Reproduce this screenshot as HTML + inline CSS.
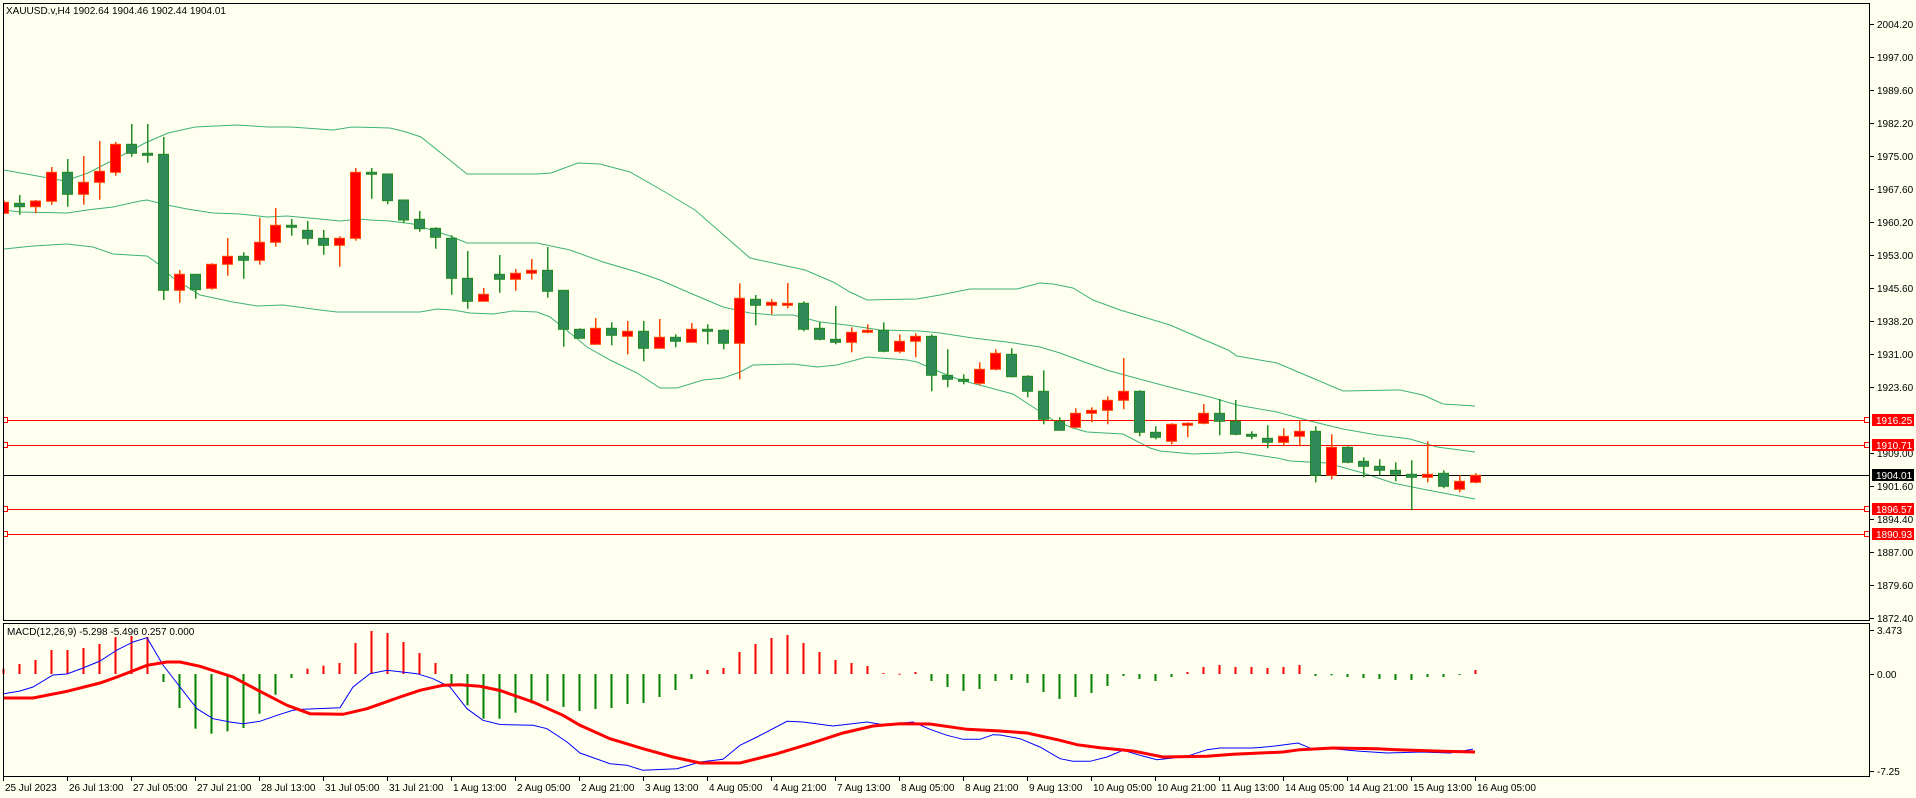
<!DOCTYPE html>
<html><head><meta charset="utf-8"><style>
html,body{margin:0;padding:0;background:#fffff0;}
svg{display:block;}
text{font-family:"Liberation Sans",sans-serif;font-size:10px;}
</style></head><body>
<svg id="s" width="1916" height="798" xmlns="http://www.w3.org/2000/svg">
<rect x="0" y="0" width="1916" height="798" fill="#fffff0"/>
<g id="bands" fill="none" stroke="#3cb371" stroke-width="1"></g>
<g id="hlines"></g>
<g id="candles"></g>
<g id="macd"></g>
<rect x="3.5" y="3.5" width="1866" height="617" fill="none" stroke="#000"/>
<rect x="3.5" y="623.5" width="1866" height="153" fill="none" stroke="#000"/>
<text x="6" y="14" fill="#000">XAUUSD.v,H4  1902.64 1904.46 1902.44 1904.01</text>
<text x="7" y="635" fill="#000">MACD(12,26,9) -5.298 -5.496 0.257 0.000</text>
<g id="axis" fill="#000"></g>
<g>
<text x="1877" y="28">2004.20</text>
<text x="1877" y="61">1997.00</text>
<text x="1877" y="94">1989.60</text>
<text x="1877" y="127">1982.20</text>
<text x="1877" y="160">1975.00</text>
<text x="1877" y="193">1967.60</text>
<text x="1877" y="226">1960.20</text>
<text x="1877" y="259">1953.00</text>
<text x="1877" y="292">1945.60</text>
<text x="1877" y="325">1938.20</text>
<text x="1877" y="358">1931.00</text>
<text x="1877" y="391">1923.60</text>
<text x="1877" y="457">1909.00</text>
<text x="1877" y="490">1901.60</text>
<text x="1877" y="523">1894.40</text>
<text x="1877" y="556">1887.00</text>
<text x="1877" y="589">1879.60</text>
<text x="1877" y="622">1872.40</text>
<text x="1877" y="634">3.473</text>
<text x="1877" y="678">0.00</text>
<text x="1877" y="775">-7.25</text>
</g>
<g>
<rect x="1872" y="414" width="42" height="12" fill="#ff0000"/><text x="1876" y="424" fill="#fff">1916.25</text>
<rect x="1872" y="439" width="42" height="12" fill="#ff0000"/><text x="1876" y="449" fill="#fff">1910.71</text>
<rect x="1872" y="469" width="42" height="12" fill="#000"/><text x="1876" y="479" fill="#fff">1904.01</text>
<rect x="1872" y="503" width="42" height="12" fill="#ff0000"/><text x="1876" y="513" fill="#fff">1896.57</text>
<rect x="1872" y="528" width="42" height="12" fill="#ff0000"/><text x="1876" y="538" fill="#fff">1890.93</text>
</g>
<g fill="#000">
<text x="5" y="791">25 Jul 2023</text>
<text x="69" y="791">26 Jul 13:00</text>
<text x="133" y="791">27 Jul 05:00</text>
<text x="197" y="791">27 Jul 21:00</text>
<text x="261" y="791">28 Jul 13:00</text>
<text x="325" y="791">31 Jul 05:00</text>
<text x="389" y="791">31 Jul 21:00</text>
<text x="453" y="791">1 Aug 13:00</text>
<text x="517" y="791">2 Aug 05:00</text>
<text x="581" y="791">2 Aug 21:00</text>
<text x="645" y="791">3 Aug 13:00</text>
<text x="709" y="791">4 Aug 05:00</text>
<text x="773" y="791">4 Aug 21:00</text>
<text x="837" y="791">7 Aug 13:00</text>
<text x="901" y="791">8 Aug 05:00</text>
<text x="965" y="791">8 Aug 21:00</text>
<text x="1029" y="791">9 Aug 13:00</text>
<text x="1093" y="791">10 Aug 05:00</text>
<text x="1157" y="791">10 Aug 21:00</text>
<text x="1221" y="791">11 Aug 13:00</text>
<text x="1285" y="791">14 Aug 05:00</text>
<text x="1349" y="791">14 Aug 21:00</text>
<text x="1413" y="791">15 Aug 13:00</text>
<text x="1477" y="791">16 Aug 05:00</text>
</g>
</svg>
<script>
var NS="http://www.w3.org/2000/svg";
function el(p,t,a){var e=document.createElementNS(NS,t);for(var k in a)e.setAttribute(k,a[k]);p.appendChild(e);return e;}
function pl(g,pts,st,w){el(g,"polyline",{points:pts.map(function(p){return p.join(",")}).join(" "),fill:"none",stroke:st,"stroke-width":w});}
var B=document.getElementById("bands");
var up=[[4,170],[65,181],[88,173],[119,157],[145,143],[168,133],[195,127],[237,125],[268,127],[291,127],[333,130],[352,127],[390,128],[406,132],[421,137],[467,174],[536,174],[551,173],[578,163],[600,164],[630,172],[665,192],[695,210],[750,258],[805,270],[833,282],[850,292],[867,300],[917,299],[940,295],[970,289],[1017,289],[1040,283],[1053,284],[1073,288],[1093,300],[1120,310],[1170,325],[1200,338],[1228,350],[1237,356],[1277,363],[1310,377],[1343,391],[1400,390],[1423,395],[1443,404],[1475,406]];
var mid=[[4,210],[20,212],[67,213],[87,210],[113,207],[140,201],[147,200],[167,205],[187,209],[213,213],[240,214],[267,217],[287,216],[320,219],[340,221],[360,219],[370,220],[390,221],[413,224],[450,236],[467,243],[537,243],[570,250],[603,262],[637,272],[660,280],[690,293],[723,307],[750,313],[773,315],[793,315],[820,322],[847,325],[880,330],[920,331],[940,333],[973,338],[1007,342],[1040,347],[1060,353],[1087,363],[1110,371],[1143,380],[1177,389],[1210,397],[1237,405],[1277,412],[1310,421],[1343,429],[1377,435],[1410,439],[1437,447],[1475,452]];
var lo=[[4,249],[33,246],[67,244],[93,247],[113,254],[147,256],[157,263],[173,278],[200,295],[233,302],[257,306],[283,305],[320,310],[337,312],[370,312],[420,312],[437,309],[453,310],[470,313],[493,314],[513,311],[537,312],[550,317],[570,333],[587,347],[610,360],[637,373],[660,388],[677,388],[703,380],[723,378],[740,372],[753,365],[793,364],[817,367],[837,365],[867,357],[907,360],[917,362],[940,372],[960,380],[987,387],[1013,394],[1033,407],[1053,420],[1073,428],[1087,432],[1123,434],[1150,448],[1160,451],[1193,454],[1223,453],[1237,452],[1277,458],[1290,461],[1327,463],[1363,473],[1393,483],[1427,490],[1475,499]];
pl(B,up,"#3cb371",1);pl(B,mid,"#3cb371",1);pl(B,lo,"#3cb371",1);
var H=document.getElementById("hlines");
[[420,"#ff0000"],[445,"#ff0000"],[509,"#ff0000"],[534,"#ff0000"]].forEach(function(h){
el(H,"line",{x1:4,x2:1869,y1:h[0]+0.5,y2:h[0]+0.5,stroke:h[1],"stroke-width":1});
el(H,"rect",{x:1864.5,y:h[0]-2.5,width:5,height:5,fill:"#fffff0",stroke:"#ff0000"});
el(H,"rect",{x:3.5,y:h[0]-2.5,width:4,height:5,fill:"#fffff0",stroke:"#ff0000"});});
el(H,"line",{x1:4,x2:1869,y1:475.5,y2:475.5,stroke:"#000","stroke-width":1});
var C=[
["r",200,202.3,213.3,214],["g",195,203.3,206.7,214.7],["r",200,201,206.7,213.3],["r",167,172.3,201.3,204.7],["g",159,172.3,194.3,206.7],["r",156,182.3,194.3,204.7],["r",141,171.3,182.3,199.7],["r",142,144.3,172.3,175.7],["g",124,144.3,153.3,156.7],["g",124,153.3,154.3,162.7],
["g",137,154.3,290.3,300],["r",270,274.3,290.3,302.7],["g",274.3,274.3,289.7,298.7],["r",263.3,264.3,288.3,289.7],["r",238,256.3,264.3,275.7],["g",252.3,256.3,260.3,278.7],["r",217.7,242.3,260.3,264.7],["r",208,225.3,242.3,246.7],["g",219,225.3,227.3,235.7],["g",221,230.3,238.3,244.7],
["g",230,238.3,245.3,254.7],["r",236.3,238.3,245.3,266.7],["r",168,172.3,238.3,240.7],["g",168,172.3,174.3,198.7],["g",174,174,200.7,204.3],["g",200,200,220,223],["g",211,219.3,228.7,231.7],["g",227.3,228.3,237.3,248.7],["g",235.3,238.3,278.3,294.7],["g",251,278.3,301.3,308.7],
["r",288,294.3,301.3,301.3],["g",255,274.3,279.3,292.7],["r",269,273.3,279.3,290.7],["r",259,270.3,273.3,279.7],["g",247,270.3,291.3,297.7],["g",290.3,290.3,329.3,346.7],["g",328.3,329.3,338.3,338.3],["r",318,328.3,344.3,344.3],["g",322.3,328.3,335.3,345.3],["r",321,331.3,336.3,354.3],
["g",321,331.3,348.3,361.3],["r",319,337.3,348.3,348.3],["g",334.3,337.3,341.3,347.3],["r",323,329.3,342.3,342.3],["g",324.3,329.3,330.3,344.3],["g",329.3,330.3,343.3,349.3],["r",283.3,298.3,343.3,379.3],["g",295,299.3,305.3,325.3],["r",299.3,302.3,305.3,314.3],["r",283,303.3,304.3,308.3],
["g",301.3,303.3,329.3,331.3],["g",322.3,328.3,339.3,340.3],["g",306,339.3,342.3,344.3],["r",327.3,332.3,342.3,352.3],["r",324.3,330.3,332.3,333.3],["g",322.3,330.3,351.3,352.3],["r",334.3,341.3,351.3,353.3],["r",333.3,336.3,341.3,357.3],["g",334.3,336.3,375.3,391.3],["g",349.3,375.3,379.3,387.3],
["g",374.3,379.3,381.3,384.3],["r",362.3,369.3,383.3,385.3],["r",349.3,353.3,369.3,370.3],["g",348.3,354.3,376.7,377.3],["g",375.3,376.3,391.3,397.3],["g",370.3,391.3,419.3,424.3],["g",417.3,421.3,430.3,430.3],["r",408.3,413.3,427.3,428.3],["r",407.3,410.3,413.3,422.3],["r",396.3,400.3,410.3,424.3],
["r",358,391.3,400.3,409.3],["g",390.3,391.3,432.3,436.3],["g",426.3,432.3,437.3,439.3],["r",423.3,424.3,441.3,444.3],["r",422.3,423.3,424.3,437.3],["r",404,413.3,423.3,424.3],["g",399,413.3,421.3,435.3],["g",400,421.3,434.3,435.3],["g",431.3,434.3,434.7,439.3],["g",425.3,438.3,442.3,448.3],
["r",428.3,436.3,442.3,446.3],["r",420.3,431.3,436.3,446.3],["g",426.3,431.3,475.3,482.3],["r",434.3,447.3,475.3,479.3],["g",446.3,447.3,462.3,463.3],["g",457.3,461.3,466.3,477.3],["g",459.3,466.3,470.3,475.3],["g",462.3,470.3,474.3,481.3],["g",460.3,474.3,477.3,510.3],["r",441.3,474.3,477.3,482.3],
["g",470.3,473.3,486.3,488.3],["r",475.3,481.3,489.3,492.3],["r",473.3,475.3,482.3,483.3]];
var G=document.getElementById("candles");
C.forEach(function(c,i){var x=Math.round(3.3+16*i);var r=c[0]=="r";
var wc=r?"#ff4500":"#228b22";
el(G,"rect",{x:x,y:c[1],width:1.5,height:Math.max(1,c[4]-c[1]),fill:wc});
var h=Math.max(2,c[3]-c[2]);
el(G,"rect",{x:x-4.5,y:c[2],width:10,height:h,fill:r?"#ff0000":"#2e8b57",stroke:wc,"stroke-width":1});});
el(G,"rect",{x:0,y:3,width:3,height:618,fill:"#fffff0"});
var M=document.getElementById("macd");
var hv=[668.7,664,660,650,650,648,644,637,636,637,682,708,728.7,733.7,731.3,728,713.7,694.7,678,668.7,665.7,663,643,631,633,642,653,663,685.3,705.3,718.7,718.7,712.7,703.3,701,707,711,709,708,704,703,697,690,679,670,668,652,644,638,635,643,652,660,663,666,673,673.7,672,681,687,691,689,681,680,683,692,699,697,693,686,676,679,681,677,672,667,665,667,667,668,667,665,676,675.3,677,678,679,680,680,677,677,675,670];
var redI={};[0,1,2,3,4,5,6,7,8,9,19,20,21,22,23,24,25,26,27,44,45,46,47,48,49,50,51,52,53,54,55,56,57,74,75,76,77,78,79,80,81,92].forEach(function(k){redI[k]=1;});
hv.forEach(function(v,i){var x=Math.round(3.3+16*i)-0.5;var y1=Math.min(v,674),y2=Math.max(v,674);
el(M,"rect",{x:x,y:y1,width:2,height:Math.max(1,y2-y1),fill:redI[i]?"#ff0000":"#008000"});});
var blue=[[4,693.7],[20,691],[33,687],[53,675],[67,674],[83,668],[100,661],[117,650],[133,642],[147,637.7],[163,665],[180,687],[197,708.7],[213,718.7],[230,722],[243,723.7],[260,721.3],[277,715.3],[293,710.3],[303,709.3],[340,707.7],[353,687],[370,673.7],[387,670.3],[417,673.7],[433,678.7],[450,687],[467,708.7],[483,720.3],[500,724.5],[533,725.3],[547,728.7],[567,742],[580,753],[610,763.7],[627,765.3],[643,770.3],[677,768.7],[700,762],[723,759.3],[740,745.3],[757,737],[787,721.3],[803,722],[833,726],[867,722],[883,724.7],[913,722],[930,729.3],[947,735.3],[963,739.3],[980,739.3],[993,734.7],[1000,735],[1020,738.7],[1040,747],[1060,758.7],[1073,761.3],[1090,761.3],[1107,757],[1123,750.3],[1140,755.3],[1157,759.7],[1173,758],[1190,755.3],[1207,749.7],[1220,748],[1253,748],[1273,746.3],[1298,743],[1313,749.3],[1333,748.7],[1357,751],[1387,753],[1420,752],[1450,753],[1473,749.3]];
var red=[[4,698],[33,698],[67,691.3],[100,683],[117,677],[147,665.3],[167,662],[180,662],[200,666.3],[233,677],[260,691.3],[287,705.3],[310,713.7],[343,714.3],[367,708.7],[400,697],[420,690.3],[443,685.3],[460,684.7],[480,686.3],[500,690.5],[533,702],[563,715.3],[580,725.3],[610,738.7],[643,748.7],[673,757],[700,763],[740,763],[777,753.7],[810,743.7],[843,733],[873,726],[900,723.7],[930,724],[967,729.3],[1000,731],[1027,733],[1060,740.3],[1077,744.7],[1100,747.7],[1133,751],[1163,757],[1207,756.3],[1233,754.3],[1283,752],[1300,749.7],[1333,748],[1377,748.7],[1397,749.7],[1443,751.3],[1475,752]];
pl(M,blue,"#0000ff",1);pl(M,red,"#ff0000",3);
var A=document.getElementById("axis");
[24,57,90,123,156,189,222,255,288,321,354,387,453,486,519,552,585,618,630,674,771].forEach(function(y){el(A,"rect",{x:1870,y:y,width:4,height:1,fill:"#000"});});
for(var i=0;i<24;i++){el(A,"rect",{x:Math.round(3.3+64*i),y:777,width:1,height:4,fill:"#000"});}
</script>
</body></html>
